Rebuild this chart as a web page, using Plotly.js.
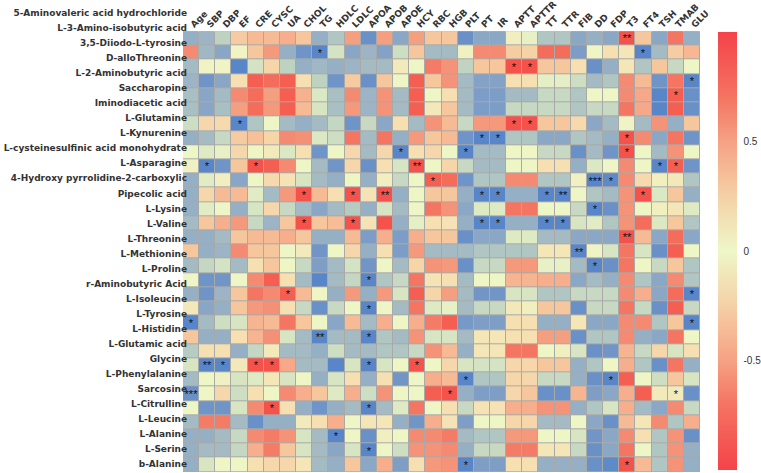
<!DOCTYPE html>
<html>
<head>
<meta charset="utf-8">
<script src="https://cdn.plot.ly/plotly-3.0.1.min.js"></script>
<style>html,body{margin:0;padding:0;background:#fff;}#chart{width:761px;height:473px;}</style>
</head>
<body>
<div id="chart"></div>
<script>
const cols = ['Age','SBP','DBP','EF','CRE','CYSC','UA','CHOL','TG','HDLC','LDLC','APOA','APOB','APOE','HCY','RBC','HGB','PLT','PT','IR','APTT','APTTR','TT','TTR','FIB','DD','FDP','T3','FT4','TSH','TMAB','GLU'];

const rows = ['5-Aminovaleric acid hydrochloride','L-3-Amino-isobutyric acid','3,5-Diiodo-L-tyrosine','D-alloThreonine','L-2-Aminobutyric acid','Saccharopine','Iminodiacetic acid','L-Glutamine','L-Kynurenine','L-cysteinesulfinic acid monohydrate','L-Asparagine','4-Hydroxy pyrrolidine-2-carboxylic','Pipecolic acid','L-Lysine','L-Valine','L-Threonine','L-Methionine','L-Proline','r-Aminobutyric Acid','L-Isoleucine','L-Tyrosine','L-Histidine','L-Glutamic acid','Glycine','L-Phenylalanine','Sarcosine','L-Citrulline','L-Leucine','L-Alanine','L-Serine','b-Alanine'];

// correlation values, one row per metabolite, columns in the order of cols
const corr = [
[-0.33,-0.30,-0.15,0.18,0.24,0.24,0.28,0.20,-0.33,-0.20,0.33,-0.50,0.33,-0.37,0.33,0.20,0.20,-0.50,-0.37,-0.37,0.03,-0.02,-0.20,-0.20,-0.37,-0.33,-0.37,0.60,0.20,-0.37,0.47,-0.33],
[0.40,-0.28,-0.38,0.01,0.20,0.35,-0.33,-0.48,-0.58,-0.08,-0.38,-0.30,-0.40,-0.10,0.20,-0.26,-0.26,0.02,0.40,0.40,0.17,0.15,0.50,0.50,-0.43,0.00,0.10,0.07,-0.58,-0.26,0.17,0.25],
[-0.26,0.01,0.01,-0.58,-0.08,0.14,-0.15,-0.33,-0.28,-0.33,-0.30,-0.26,-0.26,0.05,0.00,0.45,0.37,-0.14,0.20,0.20,0.60,0.60,0.20,0.20,0.10,-0.50,-0.33,0.07,-0.20,0.20,-0.12,0.00],
[-0.30,-0.48,-0.38,0.10,0.55,0.50,0.55,0.10,-0.15,-0.48,0.18,-0.50,0.20,0.00,0.55,0.20,0.37,-0.26,-0.40,-0.40,0.10,0.10,-0.03,-0.03,-0.10,-0.26,-0.20,0.40,0.24,-0.48,0.47,-0.58],
[-0.24,-0.38,-0.26,0.40,0.50,0.33,0.55,0.27,-0.06,-0.24,0.40,-0.30,0.37,-0.26,0.55,0.00,0.10,-0.26,-0.43,-0.43,-0.26,-0.26,-0.12,-0.12,-0.20,0.00,0.00,0.40,0.30,-0.58,0.55,-0.50],
[-0.24,-0.38,-0.24,0.33,0.50,0.35,0.55,0.24,-0.07,-0.24,0.35,-0.30,0.37,-0.26,0.55,0.06,0.20,-0.26,-0.43,-0.43,-0.12,-0.12,-0.12,-0.12,-0.20,-0.12,-0.12,0.47,0.30,-0.58,0.55,-0.50],
[-0.10,0.13,0.12,-0.58,-0.20,0.00,-0.26,-0.33,-0.26,-0.13,-0.48,-0.12,-0.37,0.10,-0.26,0.37,0.24,-0.12,0.35,0.35,0.60,0.60,0.20,0.20,0.12,-0.37,-0.26,0.01,-0.26,0.37,-0.33,0.20],
[-0.33,-0.26,-0.12,0.18,0.22,0.14,0.40,0.38,-0.06,-0.10,0.47,-0.26,0.47,-0.33,0.35,0.20,0.24,-0.48,-0.58,-0.58,-0.20,-0.20,-0.37,-0.37,-0.20,-0.26,-0.33,0.60,0.40,-0.37,0.47,-0.48],
[0.00,-0.05,-0.02,0.13,0.00,0.05,-0.06,0.10,-0.48,0.00,0.13,-0.26,0.13,-0.58,0.10,0.13,0.00,-0.58,-0.26,-0.26,0.00,0.00,-0.12,-0.12,-0.50,-0.26,-0.48,0.60,0.00,-0.26,0.37,0.00],
[0.02,-0.58,-0.48,0.20,0.60,0.55,0.40,0.00,-0.26,-0.47,0.13,-0.50,0.10,-0.07,0.60,0.00,0.14,-0.12,-0.26,-0.26,0.00,0.00,0.10,0.10,-0.33,-0.06,0.00,0.40,0.00,-0.58,0.55,-0.48],
[-0.33,-0.04,0.03,-0.38,0.00,0.12,0.08,-0.07,-0.26,-0.33,0.00,-0.33,0.03,-0.12,0.00,0.55,0.50,-0.48,-0.20,-0.20,0.40,0.40,-0.20,-0.20,0.02,-0.58,-0.55,0.40,0.12,0.03,0.06,-0.20],
[-0.33,0.13,0.24,0.24,-0.04,-0.26,0.35,0.60,0.24,0.10,0.60,0.08,0.60,-0.33,0.00,0.20,0.20,-0.33,-0.58,-0.58,-0.33,-0.33,-0.58,-0.58,0.00,-0.20,-0.26,0.37,0.60,-0.06,0.20,-0.33],
[-0.33,-0.04,0.00,-0.33,-0.07,0.13,-0.12,-0.26,-0.38,-0.26,-0.18,-0.33,-0.07,-0.26,0.00,0.47,0.37,-0.37,-0.05,-0.05,0.47,0.47,0.00,0.00,-0.12,-0.58,-0.50,0.37,0.00,0.03,0.07,-0.05],
[-0.26,0.20,0.28,0.35,-0.12,-0.30,0.20,0.60,0.20,0.23,0.60,0.08,0.60,-0.33,-0.03,0.10,0.08,-0.33,-0.58,-0.58,-0.33,-0.33,-0.58,-0.58,-0.07,-0.04,-0.20,0.37,0.50,-0.06,0.20,-0.20],
[-0.33,-0.33,-0.26,0.20,0.24,0.24,0.28,0.20,-0.33,-0.33,0.24,-0.43,0.28,-0.43,0.28,0.20,0.20,-0.50,-0.37,-0.37,-0.05,-0.05,-0.26,-0.26,-0.37,-0.37,-0.37,0.60,0.24,-0.37,0.50,-0.37],
[0.20,-0.33,-0.30,0.40,0.20,0.20,0.00,0.05,-0.47,0.00,0.13,-0.33,0.10,-0.43,0.35,-0.26,-0.26,-0.26,-0.20,-0.20,-0.20,-0.20,0.07,0.07,-0.58,0.01,-0.07,0.47,-0.07,-0.50,0.55,0.00],
[-0.26,-0.13,-0.08,-0.26,0.10,0.20,0.00,-0.12,-0.42,-0.26,-0.08,-0.47,0.00,-0.26,0.14,0.37,0.35,-0.50,-0.12,-0.12,0.35,0.35,-0.02,-0.02,-0.26,-0.58,-0.50,0.47,0.00,-0.12,0.20,-0.20],
[0.00,-0.48,-0.47,0.00,0.40,0.55,0.10,-0.26,-0.58,-0.26,-0.13,-0.58,-0.20,-0.12,0.47,0.08,0.10,-0.26,0.00,0.00,0.26,0.26,0.28,0.28,-0.37,-0.26,-0.33,0.40,-0.20,-0.37,0.40,-0.20],
[-0.33,-0.48,-0.30,0.20,0.47,0.40,0.55,0.24,0.00,-0.33,0.35,-0.33,0.35,-0.07,0.55,0.14,0.33,-0.26,-0.47,-0.47,-0.07,-0.07,-0.20,-0.20,-0.12,-0.12,-0.12,0.40,0.28,-0.37,0.50,-0.58],
[0.06,-0.38,-0.33,0.20,0.35,0.38,0.10,-0.12,-0.50,-0.12,0.00,-0.58,0.00,-0.26,0.47,-0.05,-0.02,-0.26,-0.12,-0.12,0.06,0.03,0.20,0.20,-0.50,-0.12,-0.12,0.47,-0.12,-0.50,0.55,-0.12],
[-0.58,-0.26,-0.10,-0.07,0.26,0.24,0.47,0.20,0.00,-0.38,0.24,-0.26,0.28,0.00,0.28,0.45,0.55,-0.45,-0.42,-0.42,0.10,0.10,-0.33,-0.33,0.07,-0.37,-0.37,0.40,0.40,-0.20,0.20,-0.58],
[0.20,-0.33,-0.33,0.10,0.26,0.38,-0.07,-0.26,-0.58,-0.26,-0.26,-0.58,-0.20,-0.26,0.37,-0.07,-0.07,-0.26,0.07,0.07,0.10,0.10,0.33,0.33,-0.50,-0.20,-0.20,0.40,-0.33,-0.37,0.47,0.00],
[-0.18,0.10,0.10,-0.33,-0.13,0.05,-0.26,-0.26,-0.33,-0.10,-0.26,-0.26,-0.20,-0.20,-0.12,0.37,0.24,-0.33,0.07,0.07,0.47,0.47,0.00,0.03,-0.07,-0.50,-0.47,0.26,-0.12,0.13,-0.07,0.10],
[-0.07,-0.58,-0.58,0.06,0.60,0.60,0.30,-0.26,-0.26,-0.58,-0.07,-0.58,-0.07,0.00,0.60,0.00,0.13,-0.07,-0.08,-0.08,0.13,0.13,0.20,0.20,-0.33,-0.20,0.00,0.28,-0.20,-0.50,0.47,-0.33],
[-0.26,0.00,0.02,-0.07,-0.05,0.07,-0.07,0.00,-0.33,-0.07,0.10,-0.33,0.10,-0.47,0.00,0.28,0.24,-0.58,-0.20,-0.20,0.13,0.13,-0.12,-0.12,-0.33,-0.50,-0.58,0.55,0.00,-0.10,0.20,-0.07],
[-0.50,0.00,0.13,-0.10,0.10,0.00,0.40,0.28,0.20,-0.05,0.28,-0.10,0.37,0.00,0.00,0.55,0.60,-0.33,-0.42,-0.42,0.13,0.20,-0.50,-0.50,0.26,-0.42,-0.37,0.28,0.55,0.05,0.05,-0.50],
[0.00,-0.48,-0.48,-0.07,0.40,0.60,0.10,-0.33,-0.48,-0.33,-0.26,-0.58,-0.26,-0.05,0.47,0.00,0.10,-0.12,0.08,0.08,0.28,0.28,0.37,0.37,-0.33,-0.20,-0.07,0.28,-0.26,-0.37,0.40,-0.12],
[-0.26,0.45,0.45,-0.26,-0.50,-0.33,-0.33,0.05,0.10,0.28,0.00,0.07,0.07,-0.33,-0.47,0.28,0.08,-0.42,0.00,0.00,0.13,0.13,-0.26,-0.26,0.00,-0.37,-0.50,0.24,0.07,0.40,-0.20,0.28],
[-0.33,-0.33,-0.26,-0.12,0.40,0.45,0.37,-0.07,-0.26,-0.58,0.00,-0.50,0.03,0.00,0.40,0.40,0.45,-0.26,-0.20,-0.20,0.35,0.35,0.00,0.00,-0.07,-0.47,-0.37,0.40,0.10,-0.20,0.37,-0.50],
[-0.33,-0.26,-0.26,-0.13,0.28,0.45,0.20,-0.07,-0.26,-0.38,-0.07,-0.58,0.00,-0.10,0.37,0.37,0.40,-0.33,-0.12,-0.12,0.45,0.45,0.07,0.07,-0.12,-0.50,-0.37,0.47,0.00,-0.20,0.37,-0.33],
[-0.33,-0.07,0.00,0.00,0.10,0.13,0.13,0.07,-0.26,-0.33,0.20,-0.37,0.28,-0.42,0.10,0.35,0.37,-0.58,-0.42,-0.42,0.10,0.10,-0.33,-0.33,-0.33,-0.50,-0.55,0.60,0.24,-0.20,0.37,-0.33]
];

// significance marks: [row, column, mark]
const sigMarks = [
['5-Aminovaleric acid hydrochloride','T3','**'],
['L-3-Amino-isobutyric acid','TG','*'],['L-3-Amino-isobutyric acid','FT4','*'],
['3,5-Diiodo-L-tyrosine','APTT','*'],['3,5-Diiodo-L-tyrosine','APTTR','*'],
['D-alloThreonine','GLU','*'],
['L-2-Aminobutyric acid','TMAB','*'],
['Iminodiacetic acid','EF','*'],['Iminodiacetic acid','APTT','*'],['Iminodiacetic acid','APTTR','*'],
['L-Glutamine','PT','*'],['L-Glutamine','IR','*'],['L-Glutamine','T3','*'],
['L-Kynurenine','APOE','*'],['L-Kynurenine','PLT','*'],['L-Kynurenine','T3','*'],
['L-cysteinesulfinic acid monohydrate','SBP','*'],['L-cysteinesulfinic acid monohydrate','CRE','*'],['L-cysteinesulfinic acid monohydrate','HCY','**'],['L-cysteinesulfinic acid monohydrate','TSH','*'],['L-cysteinesulfinic acid monohydrate','TMAB','*'],
['L-Asparagine','RBC','*'],['L-Asparagine','DD','***'],['L-Asparagine','FDP','*'],
['4-Hydroxy pyrrolidine-2-carboxylic','CHOL','*'],['4-Hydroxy pyrrolidine-2-carboxylic','LDLC','*'],['4-Hydroxy pyrrolidine-2-carboxylic','APOB','**'],['4-Hydroxy pyrrolidine-2-carboxylic','PT','*'],['4-Hydroxy pyrrolidine-2-carboxylic','IR','*'],['4-Hydroxy pyrrolidine-2-carboxylic','TT','*'],['4-Hydroxy pyrrolidine-2-carboxylic','TTR','**'],['4-Hydroxy pyrrolidine-2-carboxylic','FT4','*'],
['Pipecolic acid','DD','*'],
['L-Lysine','CHOL','*'],['L-Lysine','LDLC','*'],['L-Lysine','PT','*'],['L-Lysine','IR','*'],['L-Lysine','TT','*'],['L-Lysine','TTR','*'],
['L-Valine','T3','**'],
['L-Threonine','FIB','**'],
['L-Methionine','DD','*'],
['L-Proline','APOA','*'],
['r-Aminobutyric Acid','UA','*'],['r-Aminobutyric Acid','GLU','*'],
['L-Isoleucine','APOA','*'],
['L-Tyrosine','Age','*'],['L-Tyrosine','GLU','*'],
['L-Histidine','TG','**'],['L-Histidine','APOA','*'],
['Glycine','SBP','**'],['Glycine','DBP','*'],['Glycine','CRE','*'],['Glycine','CYSC','*'],['Glycine','APOA','*'],['Glycine','HCY','*'],
['L-Phenylalanine','PLT','*'],['L-Phenylalanine','FDP','*'],
['Sarcosine','Age','***'],['Sarcosine','HGB','*'],['Sarcosine','TMAB','*'],
['L-Citrulline','CYSC','*'],['L-Citrulline','APOA','*'],
['L-Alanine','HDLC','*'],
['L-Serine','APOA','*'],
['b-Alanine','PLT','*'],['b-Alanine','T3','*']
];

const cbTicks = [-0.5, 0, 0.5];
const cbTickText = ['-0.5', '0', '0.5'];

const heatScale = [
  [0.000,'#4677c4'],[0.071,'#5483c8'],[0.143,'#6a90c8'],[0.214,'#84a2c6'],
  [0.286,'#9cb4c5'],[0.357,'#b0c6c2'],[0.429,'#cddec2'],[0.500,'#eff6c6'],
  [0.571,'#f6dfb1'],[0.643,'#f6c69d'],[0.714,'#f6a888'],[0.786,'#f48a72'],
  [0.857,'#f46c5a'],[0.929,'#f4524a'],[1.000,'#f24040']
];
const barScale = [
  [0,'#f4434a'],[0.15,'#f47462'],[0.25,'#f5a284'],[0.38,'#f5d2a8'],[0.5,'#eef7c8'],
  [0.62,'#f5d2a8'],[0.75,'#f5a284'],[0.85,'#f47462'],[1,'#f4434a']
];

const text = rows.map(() => cols.map(() => ''));
sigMarks.forEach(([r, c, m]) => { text[rows.indexOf(r)][cols.indexOf(c)] = m; });

const W = 761, H = 473;
const L = 183, R = 61;
const plotTop = 31.3, plotBottom = 472;
const cell = (plotBottom - plotTop) / rows.length;
const labelFirst = 13, labelStep = 15.03;
const labelFont = {size: 9, color: '#333', family: 'DejaVu Sans', weight: 'bold'};

const heat = {
  type: 'heatmap', x: cols, y: rows, z: corr, text: text,
  texttemplate: '%{text}', textfont: {size: 11, color: '#111', family: 'Liberation Sans'},
  colorscale: heatScale, zmin: -0.7, zmax: 0.7, showscale: false,
  xgap: 1, ygap: 1, hoverinfo: 'skip', xaxis: 'x', yaxis: 'y'
};

const labelsTrace = {
  type: 'scatter', mode: 'markers', x: rows.map(() => cols[0]), y: rows.map((r, i) => i),
  marker: {opacity: 0, size: 1}, hoverinfo: 'skip', showlegend: false, xaxis: 'x', yaxis: 'y2'
};

const barTrace = {
  type: 'scatter', mode: 'markers', x: [cols[0]], y: [rows[0]],
  marker: {opacity: 0, size: 1, color: [0], colorscale: barScale, cmin: -1, cmax: 1, showscale: true,
    colorbar: {
      x: (718 - L) / (W - L - R), xanchor: 'left', xpad: 0,
      y: 1 - 251 / H, yanchor: 'middle', ypad: 0,
      lenmode: 'pixels', len: 438, thickness: 19, outlinewidth: 0,
      tickvals: cbTicks, ticktext: cbTickText, ticks: 'outside', ticklen: 5, tickcolor: 'rgba(0,0,0,0)',
      tickfont: {size: 10, color: '#333', family: 'Liberation Sans'}
    }},
  hoverinfo: 'skip', showlegend: false, xaxis: 'x', yaxis: 'y'
};

const layout = {
  width: W, height: H,
  margin: {l: L, r: R, t: 0, b: 0, pad: 0, autoexpand: false},
  paper_bgcolor: '#ffffff', plot_bgcolor: '#ffffff',
  showlegend: false,
  xaxis: {
    type: 'category', side: 'top', anchor: 'free', position: 1 - plotTop / H, domain: [0, 1], automargin: false,
    autorange: false, range: [-0.5, cols.length - 0.5],
    tickangle: -45, ticks: '', showgrid: false, zeroline: false, showline: false,
    tickfont: labelFont
  },
  yaxis: {
    type: 'category', domain: [0, 1], automargin: false, autorange: false,
    range: [rows.length - 0.5 + (H - plotBottom) / cell, -0.5 - plotTop / cell],
    showticklabels: false, ticks: '', showgrid: false, zeroline: false, showline: false
  },
  yaxis2: {
    overlaying: 'y', anchor: 'free', position: (187 - L) / (W - L - R), side: 'left', automargin: false,
    autorange: false, range: [(H - labelFirst) / labelStep, -labelFirst / labelStep],
    tickmode: 'array', tickvals: rows.map((r, i) => i), ticktext: rows,
    ticks: '', showgrid: false, zeroline: false, showline: false,
    tickfont: labelFont
  },
  shapes: [{
    type: 'rect', xref: 'x', yref: 'y', layer: 'below',
    x0: -0.5, x1: cols.length - 0.5, y0: -0.5, y1: rows.length - 0.5,
    fillcolor: '#a9aaa8', line: {width: 0}
  }]
};

Plotly.newPlot('chart', [heat, labelsTrace, barTrace], layout, {staticPlot: true, displayModeBar: false});
</script>
</body>
</html>
